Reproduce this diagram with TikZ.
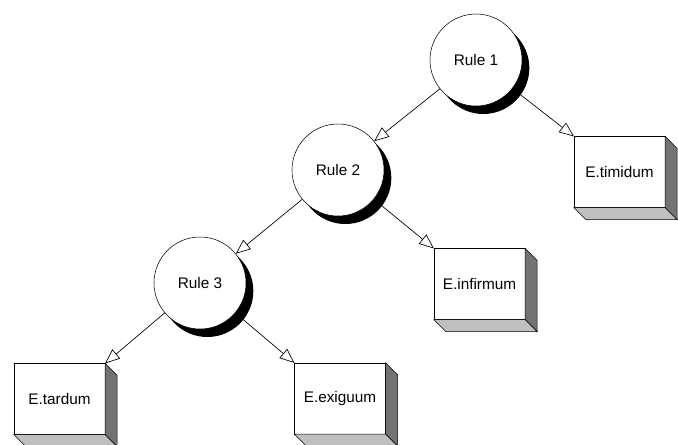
\documentclass[tikz,border=0pt]{standalone}
\usepackage{fontspec}
\setmainfont{Liberation Sans}
\usetikzlibrary{arrows.meta, shadows}
\definecolor{sidegray}{gray}{0.45}
\definecolor{basegray}{gray}{0.75}

\begin{document}
\begin{tikzpicture}[x=0.75pt, y=-0.75pt,
                    every node/.style = {text=black, font=\fontsize{11.5}{13}\selectfont},
                    rule/.style = {circle, draw, fill=white, minimum size=69pt, inner sep=0pt,
                                   drop shadow={shadow xshift=5.5pt, shadow yshift=-6pt, opacity=1, fill=black}},
                    leaf/.style = {rectangle, draw, fill=white, minimum width=68pt, minimum height=53pt, inner sep=0pt},
                    every edge/.style = {draw, line width=0.5pt, -{Triangle[open, length=11pt, width=9pt, fill=white]}}]
                \useasboundingbox (0,0) rectangle (678,444);
                \node (r1) [rule] at (476,60) {Rule 1};
                \node (r2) [rule] at (338,170) {Rule 2};
                \node (r3) [rule] at (200,283) {Rule 3};
                \node (tim) [leaf] at (619.5,172) {E.timidum};
                \node (inf) [leaf] at (479.5,284) {E.infirmum};
                \node (tar) [leaf] at (59.5,399) {E.tardum};
                \node (exi) [leaf] at (340,398.5) {E.exiguum};
                % depth of the boxes
                \foreach \n in {tim, inf, tar, exi} {
                    \filldraw[fill=sidegray, line width=0.4pt] (\n.north east) -- ([shift={(12,12)}]\n.north east)
                        -- ([shift={(12,12)}]\n.south east) -- (\n.south east) -- cycle;
                    \filldraw[fill=basegray, line width=0.4pt] (\n.south west) -- ([shift={(12,12)}]\n.south west)
                        -- ([shift={(12,12)}]\n.south east) -- (\n.south east) -- cycle;
                }
                \draw (r1) edge (r2);
                \draw (r1) edge (tim.north west);
                \draw (r2) edge (r3);
                \draw (r2) edge (inf.north west);
                \draw (r3) edge (tar.north east);
                \draw (r3) edge (exi.north west);
            \end{tikzpicture}
\end{document}
